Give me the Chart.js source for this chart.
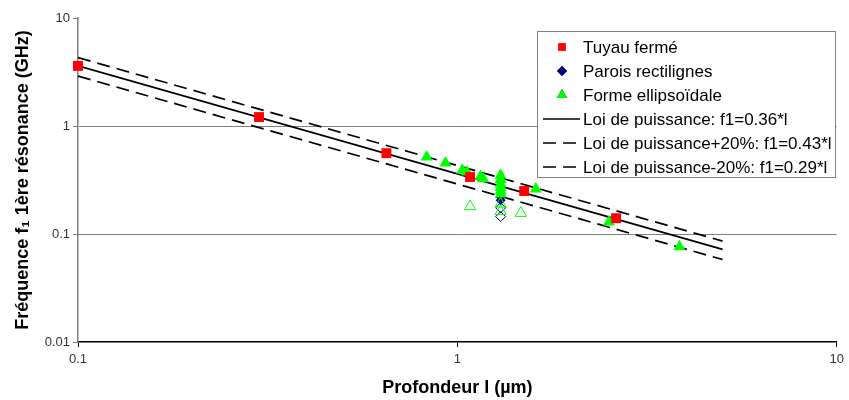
<!DOCTYPE html>
<html>
<head>
<meta charset="utf-8">
<script src="https://cdn.jsdelivr.net/npm/chart.js@4.4.0/dist/chart.umd.min.js"></script>
<style>
  html, body { margin: 0; padding: 0; background: #fff; }
</style>
</head>
<body>
<canvas id="myChart" width="849" height="400"></canvas>
<script>
// values (log-log axes)
const tuyauX = [0.1, 0.3, 0.65, 1.08, 1.5, 2.62]
const tuyauY = [3.6, 1.21, 0.56, 0.337, 0.25, 0.14]

const paroisX = [1.3, 1.3]
const paroisY = [0.22, 0.205]
const paroisOpenX = [1.3, 1.3]
const paroisOpenY = [0.175, 0.145]

const ellipseX = [0.83, 0.93, 1.03, 1.06, 1.15, 1.17, 1.3, 1.3, 1.3, 1.3, 1.3, 1.3, 1.61, 2.51, 3.85]
const ellipseY = [0.516, 0.454, 0.39, 0.375, 0.34, 0.325, 0.35, 0.32, 0.29, 0.27, 0.25, 0.235, 0.261, 0.129, 0.076]
const ellipseOpenX = [1.08, 1.3, 1.3, 1.47]
const ellipseOpenY = [0.18, 0.19, 0.162, 0.156]

const lawX = [0.1, 5]
const lawY = [3.6, 0.072]
const lawPlusY = [4.3, 0.086]
const lawMinusY = [2.9, 0.058]

const ticksX = [0.1, 1, 10]
const ticksY = [0.01, 0.1, 1, 10]

const labels = [
  "Tuyau fermé",
  "Parois rectilignes",
  "Forme ellipsoïdale",
  "Loi de puissance: f1=0.36*l",
  "Loi de puissance+20%: f1=0.43*l",
  "Loi de puissance-20%: f1=0.29*l"
]

const pts = (xs, ys) => xs.map((x, i) => ({ x: x, y: ys[i] }))

Chart.defaults.font.family = "'Liberation Sans', Arial, sans-serif"

const red = "#ff0000"
const navy = "#000080"
const green = "#00ff00"

const datasets = [
  { label: labels[0], data: pts(tuyauX, tuyauY), pointStyle: "rect", pointRadius: 7, legendRadius: 5.5,
    backgroundColor: red, borderColor: red, borderWidth: 0, showLine: false, order: 1, clip: false, inLegend: true },
  { label: labels[1], data: pts(paroisX, paroisY), pointStyle: "rectRot", pointRadius: 5, legendRadius: 5,
    backgroundColor: navy, borderColor: navy, borderWidth: 0, showLine: false, order: 3, inLegend: true },
  { label: "", data: pts(paroisOpenX, paroisOpenY), pointStyle: "rectRot", pointRadius: 5,
    backgroundColor: "rgba(0,0,0,0)", borderColor: navy, borderWidth: 1, showLine: false, order: 3 },
  { label: labels[2], data: pts(ellipseX, ellipseY), pointStyle: "triangle", pointRadius: 7, legendRadius: 6,
    backgroundColor: green, borderColor: green, borderWidth: 0, showLine: false, order: 2, inLegend: true },
  { label: "", data: pts(ellipseOpenX, ellipseOpenY), pointStyle: "triangle", pointRadius: 6.5,
    backgroundColor: "rgba(0,0,0,0)", borderColor: green, borderWidth: 1, showLine: false, order: 2 },
  { label: labels[3], data: pts(lawX, lawY), showLine: true, borderColor: "#000", borderWidth: 1.7,
    pointRadius: 0, order: 5, inLegend: true },
  { label: labels[4], data: pts(lawX, lawPlusY), showLine: true, borderColor: "#000", borderWidth: 1.7,
    borderDash: [13, 7], pointRadius: 0, order: 5, inLegend: true },
  { label: labels[5], data: pts(lawX, lawMinusY), showLine: true, borderColor: "#000", borderWidth: 1.7,
    borderDash: [13, 7], pointRadius: 0, order: 5, inLegend: true }
]

// legend drawn as a boxed list inside the plot, like the original
const boxLegend = {
  id: "boxLegend",
  afterDraw(chart) {
    const ctx = chart.ctx
    const items = chart.data.datasets.filter(d => d.inLegend)
    const left = 537, top = 31, w = 298, h = 146, row = 24
    ctx.save()
    ctx.fillStyle = "#fff"
    ctx.fillRect(left, top, w, h)
    ctx.strokeStyle = "#808080"
    ctx.lineWidth = 1
    ctx.strokeRect(left + 0.5, top + 0.5, w, h)
    ctx.font = "17px 'Liberation Sans', Arial, sans-serif"
    ctx.textBaseline = "middle"
    items.forEach((d, i) => {
      const y = top + 16 + i * row
      if (d.showLine) {
        ctx.strokeStyle = d.borderColor
        ctx.lineWidth = d.borderWidth
        ctx.setLineDash(d.borderDash || [])
        ctx.beginPath()
        ctx.moveTo(543, y)
        ctx.lineTo(580, y)
        ctx.stroke()
        ctx.setLineDash([])
      } else {
        Chart.helpers.drawPoint(ctx, {
          pointStyle: d.pointStyle, radius: d.legendRadius, borderWidth: 0, rotation: 0
        }, 562, y)
        ctx.fillStyle = d.backgroundColor
        ctx.fill()
      }
      ctx.fillStyle = "#000"
      ctx.fillText(d.label, 583, y + 1)
    })
    ctx.restore()
  }
}

const decadeTicks = list => scale => { scale.ticks = list.map(v => ({ value: v })) }

new Chart(document.getElementById("myChart"), {
  type: "scatter",
  data: { datasets: datasets },
  plugins: [boxLegend],
  options: {
    responsive: false,
    animation: false,
    layout: { padding: { top: 18, right: 8, left: 0, bottom: 0 } },
    plugins: { legend: { display: false }, tooltip: { enabled: false } },
    scales: {
      x: {
        type: "logarithmic", min: 0.1, max: 10,
        afterBuildTicks: decadeTicks(ticksX),
        afterFit: s => { s.height = 58 },
        border: { color: "#000", width: 1.5 },
        grid: { drawOnChartArea: false, tickLength: 5, tickColor: "#000" },
        ticks: { color: "#333", font: { size: 13 }, padding: 5, maxRotation: 0,
          callback: v => String(v) },
        title: { display: true, text: "Profondeur l (µm)", color: "#000",
          font: { size: 18, weight: "bold" }, padding: { top: 4, bottom: 1 } }
      },
      y: {
        type: "logarithmic", min: 0.01, max: 10,
        afterBuildTicks: decadeTicks(ticksY),
        afterFit: s => { s.width = 78 },
        border: { color: "#808080", width: 1.5 },
        grid: {
          tickLength: 5, tickColor: "#808080", lineWidth: 1,
          color: c => (c.tick && (c.tick.value === 1 || c.tick.value === 0.1)) ? "#808080" : "rgba(0,0,0,0)"
        },
        ticks: { color: "#333", font: { size: 13 }, padding: 3,
          callback: v => String(v) },
        title: { display: true, text: "Fréquence f₁ 1ère résonance (GHz)", color: "#000",
          font: { size: 18, weight: "bold" }, padding: { top: 12, bottom: 0 } }
      }
    }
  }
})
</script>
</body>
</html>
